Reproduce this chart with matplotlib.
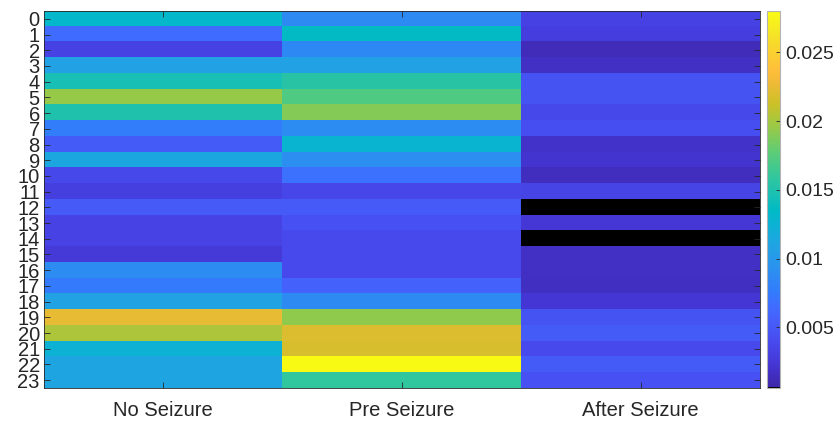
import numpy as np
import matplotlib
matplotlib.use("Agg")
import matplotlib.pyplot as plt
from matplotlib.colors import LinearSegmentedColormap, ListedColormap

# ---- data ----
columns = ["No Seizure", "Pre Seizure", "After Seizure"]
rows = [str(i) for i in range(24)]

no_seizure = [0.0132, 0.0065, 0.0032, 0.0107, 0.0146, 0.0195, 0.0150, 0.0077,
              0.0053, 0.0113, 0.0038, 0.0031, 0.0052, 0.0033, 0.0033, 0.0026,
              0.0089, 0.0075, 0.0108, 0.0225, 0.0202, 0.0124, 0.0111, 0.0111]
pre_seizure = [0.0088, 0.0136, 0.0086, 0.0107, 0.0154, 0.0171, 0.0190, 0.0089,
               0.0129, 0.0091, 0.0069, 0.0036, 0.0052, 0.0044, 0.0039, 0.0039,
               0.0039, 0.0057, 0.0088, 0.0193, 0.0220, 0.0217, 0.0280, 0.0158]
after_seizure = [0.0032, 0.0029, 0.0013, 0.0017, 0.0046, 0.0046, 0.0038, 0.0043,
                 0.0019, 0.0022, 0.0015, 0.0034, 0.0006, 0.0025, 0.0006, 0.0017,
                 0.0017, 0.0016, 0.0024, 0.0046, 0.0053, 0.0039, 0.0053, 0.0044]

vmin, vmax = 0.0006, 0.028
cbar_ticks = [0.005, 0.01, 0.015, 0.02, 0.025]
cbar_labels = ["0.005", "0.01", "0.015", "0.02", "0.025"]

# ---- parula-like colormap with black as first entry ----
anchors = [
    (0, (0.2422, 0.1504, 0.6603)), (16, (0.2704, 0.2138, 0.8346)),
    (32, (0.2813, 0.2985, 0.9397)), (48, (0.2710, 0.3860, 0.9898)),
    (58, (0.2369, 0.4437, 0.9996)), (64, (0.2006, 0.4803, 0.9906)),
    (80, (0.1716, 0.5655, 0.9393)), (96, (0.1288, 0.6408, 0.8910)),
    (112, (0.0433, 0.7039, 0.8242)), (120, (0.0018, 0.7275, 0.7752)),
    (128, (0.0770, 0.7468, 0.7224)), (144, (0.2061, 0.7808, 0.6065)),
    (160, (0.3671, 0.8021, 0.4563)), (176, (0.5886, 0.7913, 0.2833)),
    (192, (0.7945, 0.7554, 0.1570)), (208, (0.9523, 0.7284, 0.2237)),
    (216, (0.9971, 0.7513, 0.2309)), (232, (0.9748, 0.8467, 0.1726)),
    (240, (0.9601, 0.8963, 0.1507)), (255, (0.9769, 0.9839, 0.0805)),
]
parula = LinearSegmentedColormap.from_list(
    "parula", [(i / 255.0, c) for i, c in anchors], N=256)
cols = parula(np.linspace(0, 1, 256))
cols[0] = (0, 0, 0, 1)
cmap = ListedColormap(cols)

data = np.column_stack([no_seizure, pre_seizure, after_seizure])

plt.rcParams['font.family'] = ['Liberation Sans', 'DejaVu Sans']
txt = (0.15, 0.15, 0.15)

fig = plt.figure(figsize=(8.4, 4.23), dpi=100)
ax = fig.add_axes([44 / 840, 1 - 388 / 423, (760 - 44) / 840, (388 - 11) / 423])
im = ax.imshow(data, aspect='auto', cmap=cmap, vmin=vmin, vmax=vmax,
               interpolation='nearest')
ax.set_xticks(range(len(columns)))
ax.set_xticklabels(columns, fontsize=14.5, color=txt)
ax.set_yticks(range(len(rows)))
ax.set_yticklabels(rows, fontsize=14.5, color=txt)
ax.tick_params(direction='in', top=True, right=True, length=4, width=0.6,
               color=txt, pad=3)
ax.tick_params(axis='x', pad=9)
for s in ax.spines.values():
    s.set_color(txt)
    s.set_linewidth(0.6)

cax = fig.add_axes([767 / 840, 1 - 388 / 423, 13 / 840, (388 - 11) / 423])
cb = fig.colorbar(im, cax=cax)
cb.set_ticks(cbar_ticks)
cb.set_ticklabels(cbar_labels)
cax.tick_params(direction='in', length=3, width=0.6, labelsize=14,
                colors=txt, pad=4)
cb.outline.set_edgecolor((0.7, 0.7, 0.7))
cb.outline.set_linewidth(0.8)

fig.savefig("out.png", dpi=100)
